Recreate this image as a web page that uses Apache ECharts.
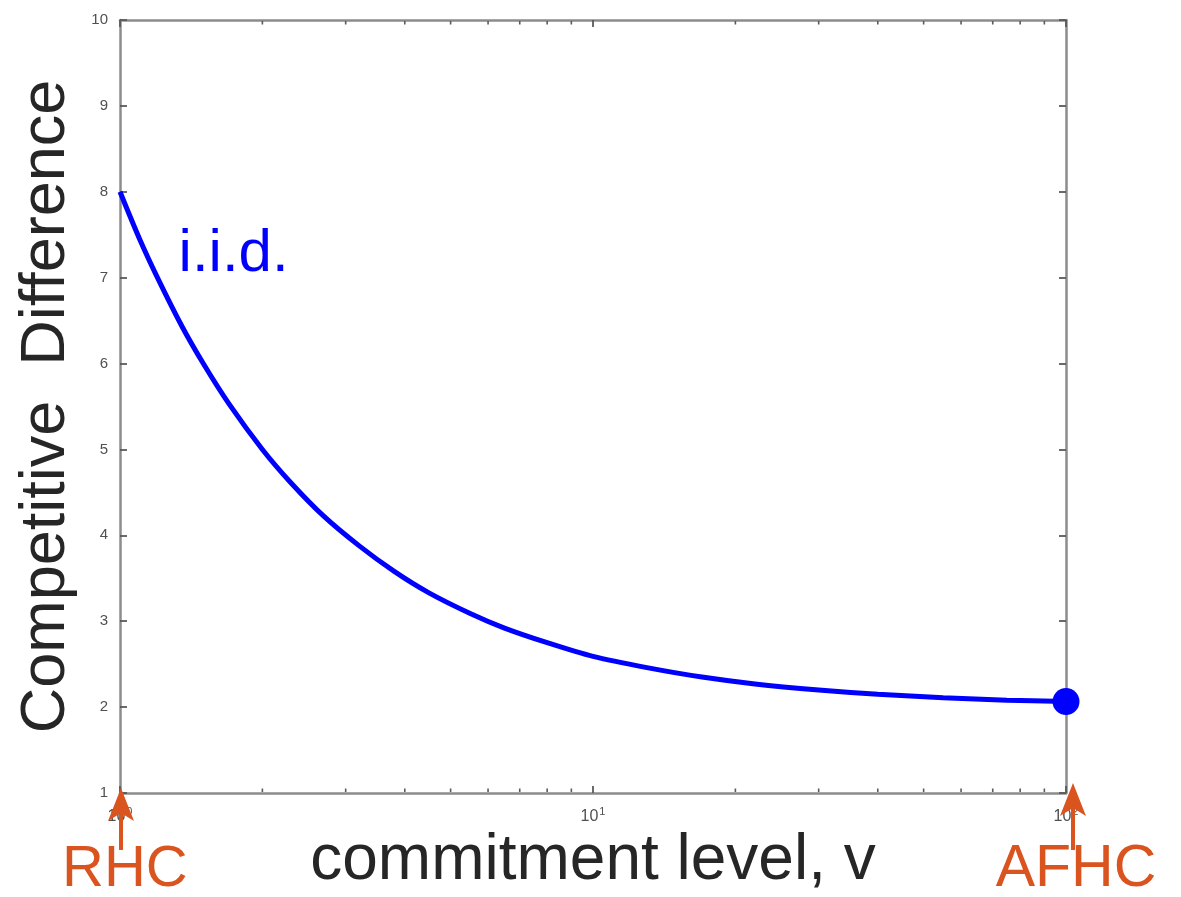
<!DOCTYPE html>
<html>
<head>
<meta charset="utf-8">
<title>Competitive Difference vs commitment level</title>
<script src="https://cdn.jsdelivr.net/npm/echarts@6/dist/echarts.min.js"></script>
<style>
  html, body { margin: 0; padding: 0; background: #fff; }
  #chart { width: 1181px; height: 897px; }
</style>
</head>
<body>
<div id="chart"></div>
<script>
// commitment level v (log scale) and the i.i.d. competitive difference
const commitment = [1, 1.1, 1.2, 1.35, 1.5, 1.7, 2, 2.3, 2.7, 3.2, 3.8, 4.5, 5.5, 6.5, 8, 10, 13, 17, 22, 30, 40, 55, 75, 100];
const competitiveDiff = [8.00, 7.45, 7.00, 6.44, 6.00, 5.53, 5.00, 4.61, 4.22, 3.88, 3.58, 3.33, 3.09, 2.92, 2.75, 2.59, 2.46, 2.35, 2.27, 2.20, 2.15, 2.11, 2.08, 2.065];

// end point of the curve (AFHC, v = 100)
const endPoint = [[100, 2.065]];

// minor tick positions on the log axis
const minorTicks = [2, 3, 4, 5, 6, 7, 8, 9, 20, 30, 40, 50, 60, 70, 80, 90];

// axis ranges
const xRange = [1, 100];
const yRange = [1, 10];
const yStep = 1;

// annotation texts
const seriesLabel = 'i.i.d.';
const leftMarker = 'RHC';
const rightMarker = 'AFHC';

const axisGray = '#8c8c8c';
const tickGray = '#5a5a5a';
const labelGray = '#505050';
const blue = '#0000ff';
const orange = '#d9541e';
const font = '"Liberation Sans", Arial, Helvetica, sans-serif';

const chart = echarts.init(document.getElementById('chart'), null, { renderer: 'canvas' });

function powLabel(v) {
  const e = Math.round(Math.log10(v));
  return '{b|10}{s|' + e + '}';
}

const boxLine = { show: true, onZero: false, lineStyle: { color: axisGray, width: 2.5 } };
const majorTick = { show: true, inside: true, length: 7, lineStyle: { color: tickGray, width: 1.8 } };

const option = {
  backgroundColor: '#fff',
  animation: false,
  grid: { left: 120, right: 115, top: 20, bottom: 104, containLabel: false, outerBoundsMode: 'none' },
  xAxis: [
    {
      type: 'log', logBase: 10, min: xRange[0], max: xRange[1], position: 'bottom',
      name: 'commitment level, v', nameLocation: 'middle', nameGap: 22,
      nameTextStyle: { fontFamily: font, fontSize: 64, color: '#262626', verticalAlign: 'top' },
      axisLine: boxLine,
      axisTick: majorTick,
      splitLine: { show: false },
      axisLabel: {
        show: true, margin: 13, formatter: powLabel, showMinLabel: true, showMaxLabel: true,
        rich: {
          b: { fontFamily: font, fontSize: 16, color: labelGray },
          s: { fontFamily: font, fontSize: 11, color: labelGray, padding: [0, 0, 10, 1] }
        }
      }
    },
    {
      type: 'log', logBase: 10, min: xRange[0], max: xRange[1], position: 'top',
      axisLine: boxLine,
      axisTick: majorTick,
      axisLabel: { show: false },
      splitLine: { show: false }
    }
  ],
  yAxis: [
    {
      type: 'value', min: yRange[0], max: yRange[1], interval: yStep, position: 'left',
      name: 'Competitive  Difference', nameLocation: 'middle', nameGap: 42, nameRotate: 90,
      nameTextStyle: { fontFamily: font, fontSize: 63, color: '#262626' },
      axisLine: boxLine,
      axisTick: majorTick,
      axisLabel: { show: true, margin: 12, fontFamily: font, fontSize: 15, color: labelGray },
      splitLine: { show: false }
    },
    {
      type: 'value', min: yRange[0], max: yRange[1], interval: yStep, position: 'right',
      axisLine: boxLine,
      axisTick: majorTick,
      axisLabel: { show: false },
      splitLine: { show: false }
    }
  ],
  series: [
    {
      name: 'minor ticks', type: 'custom', xAxisIndex: 0, yAxisIndex: 0, silent: true, clip: false,
      data: minorTicks.map(v => [v]),
      renderItem: function (params, api) {
        const v = api.value(0);
        const b = api.coord([v, yRange[0]]);
        const t = api.coord([v, yRange[1]]);
        const st = { stroke: tickGray, lineWidth: 1.6 };
        return {
          type: 'group',
          children: [
            { type: 'line', shape: { x1: b[0], y1: b[1] - 1, x2: b[0], y2: b[1] - 4.5 }, style: st },
            { type: 'line', shape: { x1: t[0], y1: t[1] + 1, x2: t[0], y2: t[1] + 4.5 }, style: st }
          ]
        };
      }
    },
    {
      name: seriesLabel, type: 'line', xAxisIndex: 0, yAxisIndex: 0,
      data: commitment.map((v, i) => [v, competitiveDiff[i]]),
      smooth: 0.3, showSymbol: false, clip: false,
      lineStyle: { color: blue, width: 5 }
    },
    {
      name: 'AFHC point', type: 'scatter', xAxisIndex: 0, yAxisIndex: 0,
      data: endPoint, symbol: 'circle', symbolSize: 27, clip: false, z: 5,
      itemStyle: { color: blue, opacity: 1 }
    }
  ]
};

chart.setOption(option);

// annotations anchored to the axes through the chart's own coordinate conversion
function arrow(x, tipY, tailY) {
  const headLen = 33, headHalf = 13, notch = 8;
  return [
    {
      type: 'line', z: 100,
      shape: { x1: x, y1: tailY, x2: x, y2: tipY + headLen - notch },
      style: { stroke: orange, lineWidth: 4 }
    },
    {
      type: 'polygon', z: 100,
      shape: { points: [[x, tipY], [x + headHalf, tipY + headLen], [x, tipY + headLen - notch], [x - headHalf, tipY + headLen]] },
      style: { fill: orange }
    }
  ];
}

const conv = p => chart.convertToPixel({ xAxisIndex: 0, yAxisIndex: 0 }, p);
const pLeft = conv([xRange[0], yRange[0]]);
const pRight = conv([xRange[1], yRange[0]]);
const pLabel = conv([1.33, 7.27]);

const graphics = []
  .concat(arrow(pLeft[0] + 1, pLeft[1] - 5, pLeft[1] + 57))
  .concat(arrow(pRight[0] + 7, pRight[1] - 10, pRight[1] + 57))
  .concat([
    {
      type: 'text', z: 100, x: pLeft[0] - 58, y: pLeft[1] + 77,
      style: { text: leftMarker, fill: orange, font: '58px ' + font, align: 'left', verticalAlign: 'middle' }
    },
    {
      type: 'text', z: 100, x: pRight[0] + 10, y: pRight[1] + 77,
      style: { text: rightMarker, fill: orange, font: '59px ' + font, align: 'center', verticalAlign: 'middle' }
    },
    {
      type: 'text', z: 100, x: pLabel[0], y: pLabel[1],
      style: { text: seriesLabel, fill: blue, font: '60px ' + font, align: 'left', verticalAlign: 'middle' }
    }
  ]);

chart.setOption({ graphic: graphics });
</script>
</body>
</html>
